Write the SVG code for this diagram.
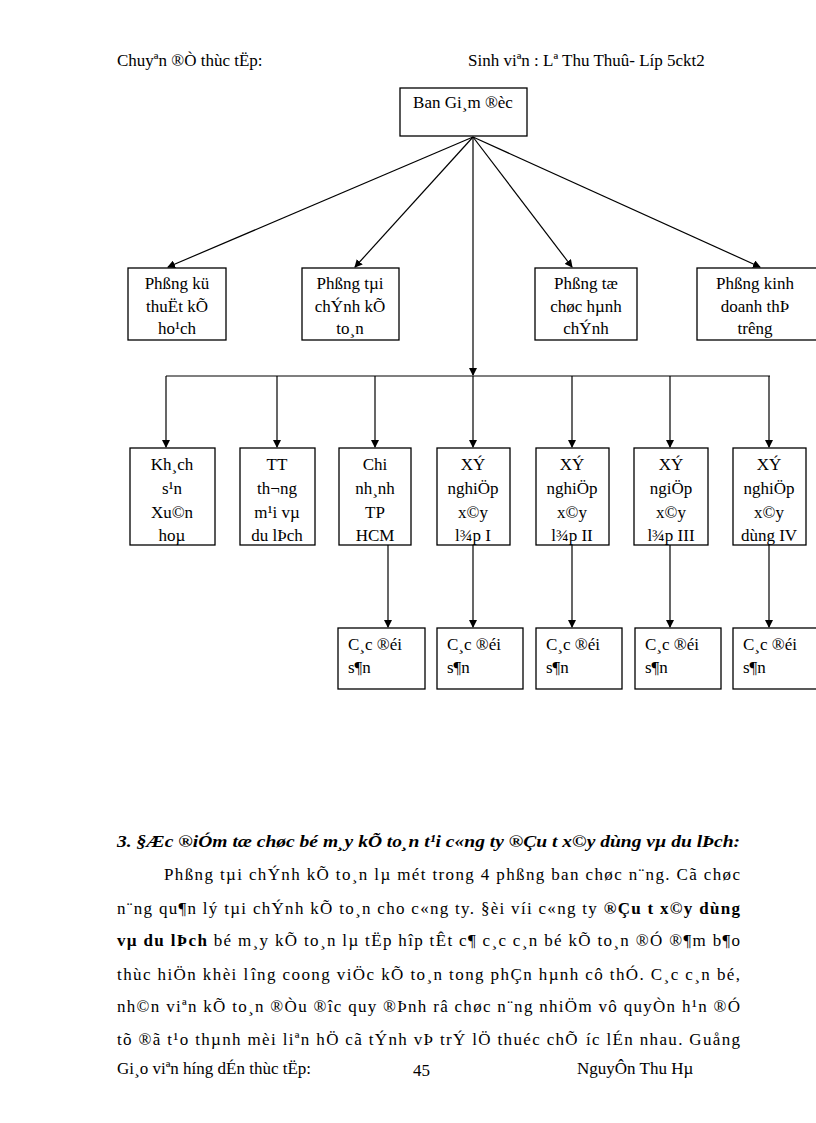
<svg xmlns="http://www.w3.org/2000/svg" width="816" height="1123" viewBox="0 0 816 1123">
<defs>
<marker id="ah" markerWidth="8" markerHeight="8" refX="7" refY="4" orient="auto" markerUnits="userSpaceOnUse"><path d="M0,0 L8,4 L0,8 z" fill="#000"/></marker>
<style>
text{font-family:"Liberation Serif",serif;font-size:17px;fill:#000}
.c{text-anchor:middle}
rect{fill:#fff;stroke:#000;stroke-width:1.3}
.ln{stroke:#000;stroke-width:1.2;fill:none}
.a{marker-end:url(#ah)}
</style>
</defs>
<rect width="816" height="1123" style="fill:#fff;stroke:none"/>
<text x="117" y="66">Chuyªn ®Ò thùc tËp:</text>
<text x="468" y="66">Sinh viªn : Lª Thu Thuû- Líp 5ckt2</text>
<g id="connectors">
<line class="ln a" x1="473" y1="137" x2="168" y2="267"/>
<line class="ln a" x1="473" y1="137" x2="355" y2="267"/>
<line class="ln a" x1="473" y1="137" x2="572" y2="267"/>
<line class="ln a" x1="473" y1="137" x2="760" y2="267"/>
<line class="ln a" x1="473" y1="137" x2="473" y2="375"/>
<line class="ln" x1="166" y1="376" x2="770" y2="376"/>
<line class="ln a" x1="166" y1="376" x2="166" y2="447"/>
<line class="ln a" x1="277" y1="376" x2="277" y2="447"/>
<line class="ln a" x1="375" y1="376" x2="375" y2="447"/>
<line class="ln a" x1="473" y1="376" x2="473" y2="447"/>
<line class="ln a" x1="572" y1="376" x2="572" y2="447"/>
<line class="ln a" x1="670" y1="376" x2="670" y2="447"/>
<line class="ln a" x1="769" y1="376" x2="769" y2="447"/>
<line class="ln a" x1="388" y1="545" x2="388" y2="627"/>
<line class="ln a" x1="473" y1="545" x2="473" y2="627"/>
<line class="ln a" x1="572" y1="545" x2="572" y2="627"/>
<line class="ln a" x1="670" y1="545" x2="670" y2="627"/>
<line class="ln a" x1="769" y1="545" x2="769" y2="627"/>
</g>
<g id="n0"><rect x="400" y="88" width="127" height="48"/><text class="c" x="463" y="108">Ban Gi¸m ®èc</text></g>
<g id="n1"><rect x="128" y="268" width="98" height="72"/><text class="c" x="177" y="289">Phßng kü</text><text class="c" x="177" y="312">thuËt  kÕ</text><text class="c" x="177" y="334">ho¹ch</text></g>
<g id="n2"><rect x="302" y="268" width="97" height="72"/><text class="c" x="350" y="289">Phßng tµi</text><text class="c" x="350" y="312">chÝnh kÕ</text><text class="c" x="350" y="334">to¸n</text></g>
<g id="n3"><rect x="535" y="268" width="102" height="72"/><text class="c" x="586" y="289">Phßng tæ</text><text class="c" x="586" y="312">chøc hµnh</text><text class="c" x="586" y="334">chÝnh</text></g>
<g id="n4"><rect x="697" y="268" width="125" height="72"/><text class="c" x="755" y="289">Phßng kinh</text><text class="c" x="755" y="312">doanh thÞ</text><text class="c" x="755" y="334">tr­êng</text></g>
<g id="r1"><rect x="130" y="448" width="85" height="97"/><text class="c" x="172" y="470">Kh¸ch</text><text class="c" x="172" y="494">s¹n</text><text class="c" x="172" y="518">Xu©n</text><text class="c" x="172" y="541">hoµ</text></g>
<g id="r2"><rect x="240" y="448" width="75" height="97"/><text class="c" x="277" y="470">TT</text><text class="c" x="277" y="494">th­¬ng</text><text class="c" x="277" y="518">m¹i vµ</text><text class="c" x="277" y="541">du lÞch</text></g>
<g id="r3"><rect x="339" y="448" width="72" height="97"/><text class="c" x="375" y="470">Chi</text><text class="c" x="375" y="494">nh¸nh</text><text class="c" x="375" y="518">TP</text><text class="c" x="375" y="541">HCM</text></g>
<g id="r4"><rect x="437" y="448" width="73" height="97"/><text class="c" x="473" y="470">XÝ</text><text class="c" x="473" y="494">nghiÖp</text><text class="c" x="473" y="518">x©y</text><text class="c" x="473" y="541">l¾p I</text></g>
<g id="r5"><rect x="536" y="448" width="73" height="97"/><text class="c" x="572" y="470">XÝ</text><text class="c" x="572" y="494">nghiÖp</text><text class="c" x="572" y="518">x©y</text><text class="c" x="572" y="541">l¾p II</text></g>
<g id="r6"><rect x="634" y="448" width="74" height="97"/><text class="c" x="671" y="470">XÝ</text><text class="c" x="671" y="494">ngiÖp</text><text class="c" x="671" y="518">x©y</text><text class="c" x="671" y="541">l¾p III</text></g>
<g id="r7"><rect x="733" y="448" width="73" height="97"/><text class="c" x="769" y="470">XÝ</text><text class="c" x="769" y="494">nghiÖp</text><text class="c" x="769" y="518">x©y</text><text class="c" x="769" y="541">dùng IV</text></g>
<g id="b1"><rect x="338" y="628" width="87" height="61"/><text x="348" y="650">C¸c ®éi</text><text x="348" y="673">s¶n</text></g>
<g id="b2"><rect x="437" y="628" width="86" height="61"/><text x="447" y="650">C¸c ®éi</text><text x="447" y="673">s¶n</text></g>
<g id="b3"><rect x="536" y="628" width="86" height="61"/><text x="546" y="650">C¸c ®éi</text><text x="546" y="673">s¶n</text></g>
<g id="b4"><rect x="635" y="628" width="86" height="61"/><text x="645" y="650">C¸c ®éi</text><text x="645" y="673">s¶n</text></g>
<g id="b5"><rect x="733" y="628" width="86" height="61"/><text x="743" y="650">C¸c ®éi</text><text x="743" y="673">s¶n</text></g>
<text x="117" y="847" style="font-weight:bold;font-style:italic" textLength="623" lengthAdjust="spacingAndGlyphs">3. §Æc ®iÓm tæ chøc bé m¸y kÕ to¸n t¹i c«ng ty ®Çu t  x©y dùng vµ du lÞch:</text>
<text x="164" y="880" textLength="576" lengthAdjust="spacing">Phßng tµi  chÝnh kÕ to¸n lµ mét trong 4 phßng ban chøc n¨ng. Cã chøc</text>
<text x="117" y="914" textLength="623" lengthAdjust="spacing">n¨ng qu¶n lý  tµi chÝnh kÕ to¸n cho c«ng ty. §èi víi c«ng ty <tspan style="font-weight:bold">®Çu t  x©y dùng</tspan></text>
<text x="117" y="946" textLength="623" lengthAdjust="spacing"><tspan style="font-weight:bold">vµ du lÞch</tspan>  bé m¸y kÕ to¸n lµ tËp hîp tÊt c¶ c¸c c¸n bé kÕ to¸n ®Ó ®¶m b¶o</text>
<text x="117" y="980" textLength="623" lengthAdjust="spacing">thùc hiÖn khèi l­îng  coong viÖc kÕ to¸n tong phÇn hµnh cô thÓ. C¸c c¸n bé,</text>
<text x="117" y="1012" textLength="623" lengthAdjust="spacing">nh©n viªn kÕ to¸n ®Òu ®îc  quy ®Þnh râ chøc n¨ng nhiÖm vô quyÒn h¹n ®Ó</text>
<text x="117" y="1045" textLength="623" lengthAdjust="spacing">tõ ®ã t¹o thµnh mèi liªn hÖ cã tÝnh vÞ trÝ lÖ thuéc chÕ ­íc  lÉn nhau. Guång</text>
<text x="117" y="1074">Gi¸o viªn h­íng  dÉn thùc tËp:</text>
<text x="413" y="1076">45</text>
<text x="577" y="1074">NguyÔn Thu Hµ</text>
</svg>
